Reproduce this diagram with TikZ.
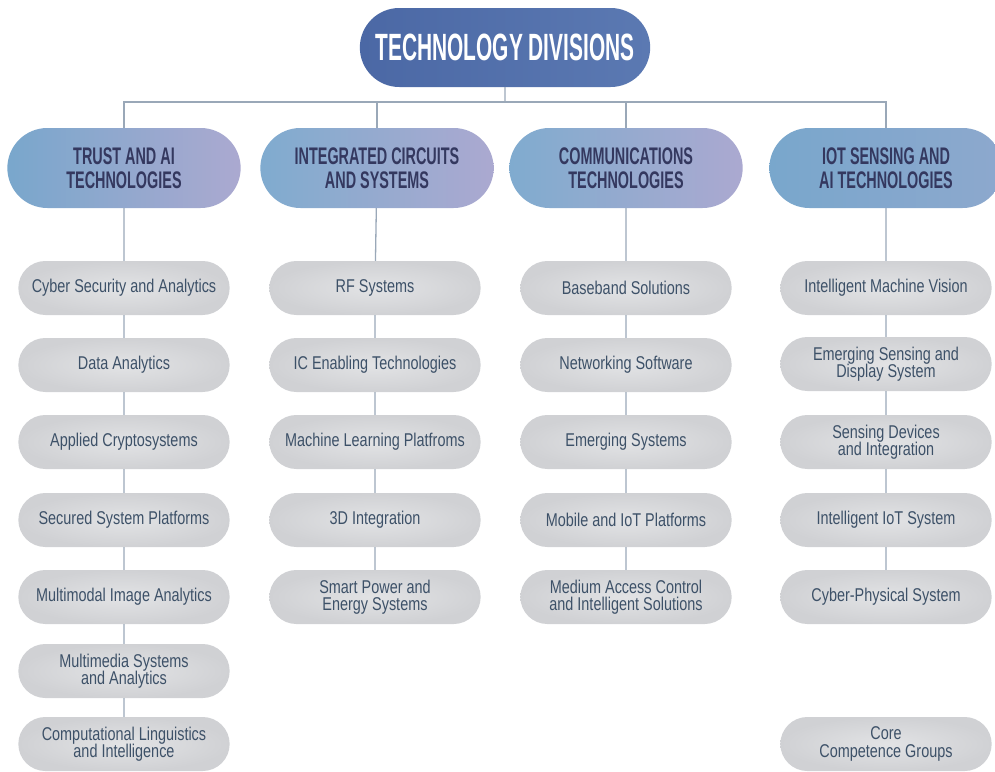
\documentclass[tikz,border=0pt]{standalone}
\usepackage{fontspec}
\setmainfont{Liberation Sans}
\newfontfamily\groupfont[FakeStretch=0.78]{Liberation Sans}
\newfontfamily\headfont[FakeStretch=0.55]{Liberation Sans}
\newfontfamily\divfont[FakeStretch=0.6]{Liberation Sans}
\usetikzlibrary{shapes.misc}
\definecolor{topblue}{HTML}{4B68A5}
\definecolor{topblueb}{HTML}{5B79B2}
\definecolor{divleft}{HTML}{79A7CC}
\definecolor{divright}{HTML}{ABA9D0}
\definecolor{divtext}{HTML}{34385F}
\definecolor{grouptext}{HTML}{3D5168}
\definecolor{groupin}{HTML}{E2E3E5}
\definecolor{groupout}{HTML}{D0D1D4}
\definecolor{linkgray}{HTML}{9AA8B8}

\begin{document}
\begin{tikzpicture}[x=1pt, y=-1pt,
topbox/.style = {shape=rounded rectangle, minimum width=297pt, minimum height=79pt,
    left color=topblue, right color=topblueb, text=white,
    font=\headfont\bfseries\fontsize{38}{38}\selectfont},
division/.style = {shape=rounded rectangle, minimum width=240pt, minimum height=80pt,
    left color=divleft, right color=divright, text=divtext, align=center,
    font=\divfont\bfseries\fontsize{24}{24.5}\selectfont},
group/.style = {shape=rounded rectangle, minimum width=218pt, minimum height=54pt,
    inner color=groupin, outer color=groupout, text=grouptext, align=center,
    font=\groupfont\fontsize{18.5}{17.5}\selectfont},
link/.style = {draw=linkgray, line width=1.3pt}]
\useasboundingbox (0,0) rectangle (995,771);
\clip (0,0) rectangle (995,771);

% top of the chart
\node [topbox] (tech) at (505,47.5) {TECHNOLOGY DIVISIONS};
\coordinate (bar) at (505,102);

% divisions
\node [division] (trust) at (124,168) {TRUST AND AI\\TECHNOLOGIES};
\node [division, left color=divleft!95!white, right color=divright] (ic) at (377,168) {INTEGRATED CIRCUITS\\AND SYSTEMS};
\node [division, left color=divleft!95!white, right color=divright] (comm) at (626,168) {COMMUNICATIONS\\TECHNOLOGIES};
\node [division, left color=divleft, right color=divleft!60!divright] (iot) at (886,168) {IOT SENSING AND\\AI TECHNOLOGIES};

% trust and ai
\node [group] (cyber) at (124,288) {Cyber Security and Analytics};
\node [group] (data) at (124,365) {Data Analytics};
\node [group] (crypto) at (124,442) {Applied Cryptosystems};
\node [group] (secured) at (124,520) {Secured System Platforms};
\node [group] (image) at (124,597) {Multimodal Image Analytics};
\node [group] (media) at (124,671) {Multimedia Systems\\and Analytics};
\node [group] (ling) at (124,744) {Computational Linguistics\\and Intelligence};

% integrated circuits
\node [group] (rf) at (375,288) {RF Systems};
\node [group] (enabling) at (375,365) {IC Enabling Technologies};
\node [group] (learning) at (375,442) {Machine Learning Platfroms};
\node [group] (threed) at (375,520) {3D Integration};
\node [group] (power) at (375,597) {Smart Power and\\Energy Systems};

% communications
\node [group] (baseband) at (626,288) {Baseband Solutions};
\node [group] (network) at (626,365) {Networking Software};
\node [group] (emerging) at (626,442) {Emerging Systems};
\node [group] (mobile) at (626,520) {Mobile and IoT Platforms};
\node [group] (mac) at (626,597) {Medium Access Control\\and Intelligent Solutions};

% iot sensing
\node [group] (vision) at (886,288) {Intelligent Machine Vision};
\node [group] (display) at (886,364) {Emerging Sensing and\\Display System};
\node [group] (devices) at (886,442) {Sensing Devices\\and Integration};
\node [group] (iotsys) at (886,520) {Intelligent IoT System};
\node [group] (cps) at (886,597) {Cyber-Physical System};
\node [group] (core) at (886,744) {Core\\Competence Groups};

% connectors
\draw [link] (tech) -- (bar);
\draw [link] (trust.north) |- (bar) -| (iot.north);
\draw [link] (ic.north) -- (ic.north |- bar);
\draw [link] (comm.north) -- (comm.north |- bar);
\draw [link] (trust) -- (cyber) -- (data) -- (crypto) -- (secured) -- (image) -- (media) -- (ling);
\draw [link] (ic) -- (rf) -- (enabling) -- (learning) -- (threed) -- (power);
\draw [link] (comm) -- (baseband) -- (network) -- (emerging) -- (mobile) -- (mac);
\draw [link] (iot) -- (vision) -- (display) -- (devices) -- (iotsys) -- (cps);
\end{tikzpicture}
\end{document}
